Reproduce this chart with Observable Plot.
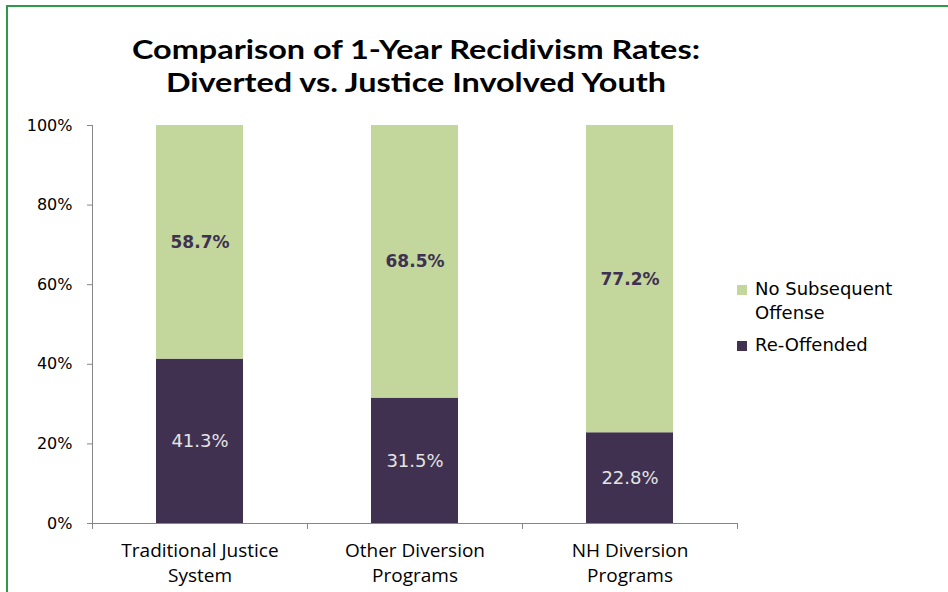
<!DOCTYPE html>
<html><head><meta charset="utf-8">
<script src="https://cdn.jsdelivr.net/npm/d3@7"></script>
<script src="https://cdn.jsdelivr.net/npm/@observablehq/plot@0.6"></script>
<style>
body{margin:0;background:#fff;}
#wrap{position:relative;width:948px;height:592px;overflow:hidden;background:#fff;}
#chart{position:absolute;left:0;top:0;}
#border{position:absolute;left:6px;top:5px;right:-10px;bottom:-10px;border-left:2.5px solid #2e9a48;border-top:2.5px solid #2e9a48;pointer-events:none;}
#title{position:absolute;left:116px;width:600px;top:32px;text-align:center;font-family:Lato;font-weight:bold;font-size:27px;line-height:33px;color:#000;transform:scaleX(1.2);transform-origin:300px 0;}
.leg{position:absolute;left:737px;font-family:"DejaVu Sans";font-size:18px;line-height:24px;color:#000;}
.leg span.sw{position:absolute;left:0;top:8px;width:10px;height:10px;}
.leg span.tx{display:block;padding-left:18px;}
</style></head>
<body>
<div id="wrap">
  <div id="chart"></div>
  <div id="title"></div>
  <div id="legend"></div>
  <div id="border"></div>
</div>
<script>
const categories = ["Traditional Justice System", "Other Diversion Programs", "NH Diversion Programs"];
const categoryLabels = ["Traditional Justice\nSystem", "Other Diversion\nPrograms", "NH Diversion\nPrograms"];
const reOffended = [41.3, 31.5, 22.8];
const noSubsequent = [58.7, 68.5, 77.2];
const seriesNames = ["Re-Offended", "No Subsequent Offense"];
const seriesLegend = ["No Subsequent\nOffense", "Re-Offended"];
const seriesColors = ["#403151", "#c3d69b"];
const yTicks = [0, 20, 40, 60, 80, 100];
const titleLines = ["Comparison of 1-Year Recidivism Rates:", "Diverted vs. Justice Involved Youth"];

const rows = categories.flatMap((c, i) => [
  {category: c, series: seriesNames[0], value: reOffended[i]},
  {category: c, series: seriesNames[1], value: noSubsequent[i]}
]);
const labelOf = new Map(categories.map((c, i) => [c, categoryLabels[i]]));

function axisLines(index, scales, values, dims) {
  const {x, y} = scales;
  const x0 = dims.marginLeft, x1 = dims.width - dims.marginRight;
  const yb = y(0), yt = y(100);
  const g = d3.create("svg:g").attr("stroke", "#868686").attr("stroke-width", 1).attr("fill", "none");
  g.append("line").attr("x1", x0 + 0.5).attr("x2", x0 + 0.5).attr("y1", yt).attr("y2", yb);
  g.append("line").attr("x1", x0).attr("x2", x1).attr("y1", yb + 0.5).attr("y2", yb + 0.5);
  const step = (x1 - x0) / categories.length;
  const bw = x.bandwidth ? x.bandwidth() : 0;
  const bounds = categories.map(c => x(c) + bw / 2 - step / 2);
  bounds.push(x(categories[categories.length - 1]) + bw / 2 + step / 2);
  for (const b of bounds) {
    g.append("line").attr("x1", Math.round(b) + 0.5).attr("x2", Math.round(b) + 0.5).attr("y1", yb).attr("y2", yb + 6);
  }
  return g.node();
}

const fmt = d => d.value.toFixed(1) + "%";

const plot = Plot.plot({
  width: 948,
  height: 592,
  marginLeft: 92,
  marginRight: 210,
  marginTop: 125,
  marginBottom: 69,
  style: {fontFamily: "DejaVu Sans", background: "transparent", overflow: "visible"},
  x: {domain: categories, paddingInner: 0.595, paddingOuter: 0.2975, axis: null},
  y: {domain: [0, 100], axis: null},
  color: {domain: seriesNames, range: seriesColors},
  marks: [
    Plot.barY(rows, Plot.stackY({x: "category", y: "value", fill: "series", z: "series", order: seriesNames})),
    Plot.text(rows, Plot.stackY({
      x: "category", y: "value", z: "series", order: seriesNames,
      text: d => d.series === seriesNames[0] ? fmt(d) : "",
      fill: "#e4e4e4", fontSize: 18, fontFamily: "DejaVu Sans"
    })),
    Plot.text(rows, Plot.stackY({
      x: "category", y: "value", z: "series", order: seriesNames,
      text: d => d.series === seriesNames[1] ? fmt(d) : "",
      fill: "#3f3151", fontSize: 17, fontWeight: "bold", fontFamily: "DejaVu Sans"
    })),
    Plot.axisY({ticks: yTicks, tickFormat: d => d + "%", tickSize: 5, tickPadding: 15, stroke: "#868686", fill: "#000", fontSize: 16, label: null}),
    Plot.axisX({tickSize: 0, tickPadding: 16, tickFormat: d => labelOf.get(d), fontSize: 19, fontFamily: "Open Sans", fill: "#000", lineHeight: 1.316, label: null}),
    axisLines
  ]
});
document.getElementById("chart").appendChild(plot);

document.getElementById("title").innerHTML = titleLines.join("<br>");

const legend = document.getElementById("legend");
const legTops = [277, 333];
seriesLegend.forEach((name, i) => {
  const div = document.createElement("div");
  div.className = "leg";
  div.style.top = legTops[i] + "px";
  const sw = document.createElement("span");
  sw.className = "sw";
  sw.style.background = seriesColors[seriesColors.length - 1 - i];
  const tx = document.createElement("span");
  tx.className = "tx";
  tx.innerHTML = name.replace("\n", "<br>");
  div.appendChild(sw); div.appendChild(tx);
  legend.appendChild(div);
});
</script>
</body></html>
